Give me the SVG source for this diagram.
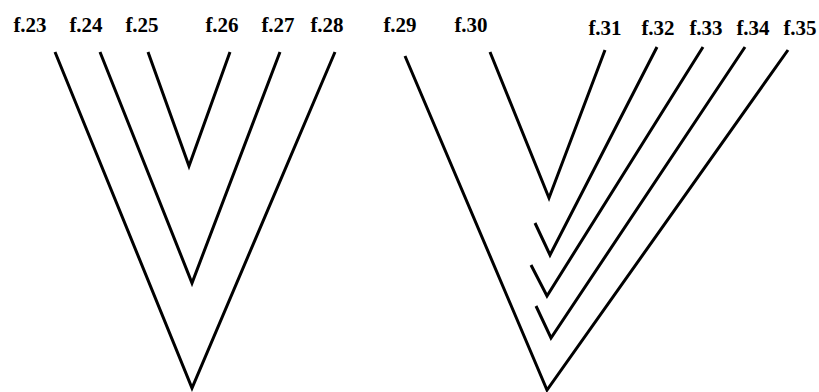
<svg xmlns="http://www.w3.org/2000/svg" width="819" height="392" viewBox="0 0 819 392">
<style>
.lbl{font-family:"Liberation Serif","Times New Roman",serif;font-size:21px;font-weight:bold;fill:#000;text-anchor:middle}
.ln{fill:none;stroke:#000;stroke-width:3;stroke-linejoin:miter;stroke-linecap:butt}
</style>
<rect width="819" height="392" fill="#fff"/>
<g id="f23"><text class="lbl" x="30" y="32">f.23</text></g>
<g id="f24"><text class="lbl" x="86" y="32">f.24</text></g>
<g id="f25"><text class="lbl" x="142" y="32">f.25</text></g>
<g id="f26"><text class="lbl" x="222" y="32">f.26</text></g>
<g id="f27"><text class="lbl" x="278" y="32">f.27</text></g>
<g id="f28"><text class="lbl" x="327" y="32">f.28</text></g>
<g id="f29"><text class="lbl" x="400" y="32">f.29</text></g>
<g id="f30"><text class="lbl" x="471" y="32">f.30</text></g>
<g id="f31"><text class="lbl" x="605" y="35">f.31</text></g>
<g id="f32"><text class="lbl" x="658" y="35">f.32</text></g>
<g id="f33"><text class="lbl" x="706" y="35">f.33</text></g>
<g id="f34"><text class="lbl" x="753" y="35">f.34</text></g>
<g id="f35"><text class="lbl" x="800" y="35">f.35</text></g>
<g id="connectors">
<polyline class="ln" points="55,52 192,388 335,52"/>
<polyline class="ln" points="100,52 192,283 280,52"/>
<polyline class="ln" points="148,52 189,166 230,52"/>
<polyline class="ln" points="405,56 547,390 788,50"/>
<polyline class="ln" points="490,52 549,198 605,50"/>
<polyline class="ln" points="535,223 550,255 657,47"/>
<polyline class="ln" points="531,265 547,296 703,47"/>
<polyline class="ln" points="536,306 551,338 745,47"/>
</g>
</svg>
